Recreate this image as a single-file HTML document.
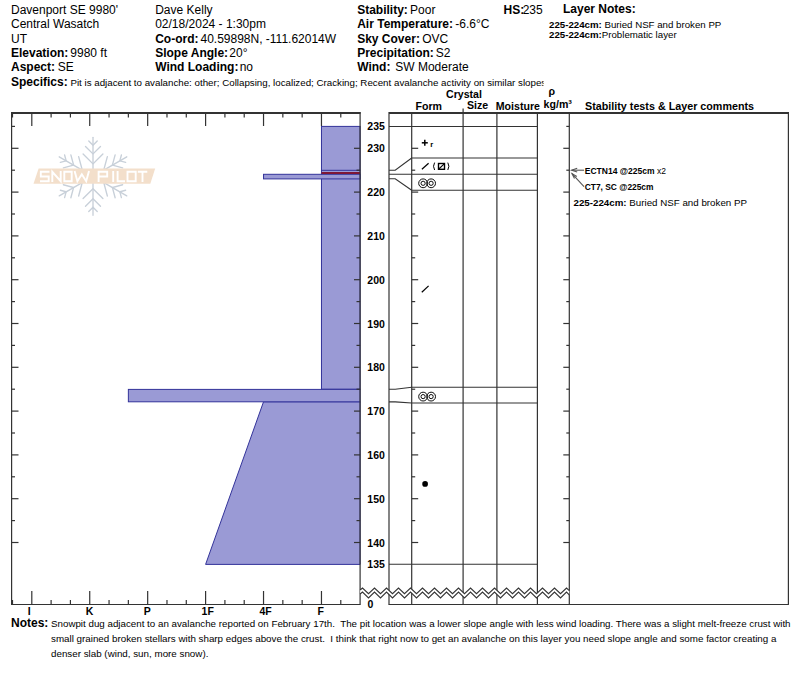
<!DOCTYPE html>
<html><head><meta charset="utf-8"><style>
html,body{margin:0;padding:0;background:#fff;}
body{width:800px;height:676px;overflow:hidden;}
svg{display:block;font-family:"Liberation Sans",sans-serif;}
text{white-space:pre;}
</style></head><body>
<svg width="800" height="676" viewBox="0 0 800 676" fill="#000">

<g stroke="#c8d0d9" stroke-width="1.35" fill="none" stroke-linecap="round"><line x1="93.00" y1="176.30" x2="93.00" y2="137.30"/><polyline points="102.90,154.00 93.00,163.90 83.10,154.00"/><polyline points="100.50,146.40 93.00,153.90 85.50,146.40"/><polyline points="97.24,141.06 93.00,145.30 88.76,141.06"/><line x1="93.00" y1="176.30" x2="126.77" y2="156.80"/><polyline points="117.26,173.72 103.74,170.10 107.36,156.58"/><polyline points="122.64,167.84 112.40,165.10 115.14,154.86"/><polyline points="125.64,162.35 119.85,160.80 121.40,155.00"/><line x1="93.00" y1="176.30" x2="126.77" y2="195.80"/><polyline points="107.36,196.02 103.74,182.50 117.26,178.88"/><polyline points="115.14,197.74 112.40,187.50 122.64,184.76"/><polyline points="121.40,197.60 119.85,191.80 125.64,190.25"/><line x1="93.00" y1="176.30" x2="93.00" y2="215.30"/><polyline points="83.10,198.60 93.00,188.70 102.90,198.60"/><polyline points="85.50,206.20 93.00,198.70 100.50,206.20"/><polyline points="88.76,211.54 93.00,207.30 97.24,211.54"/><line x1="93.00" y1="176.30" x2="59.23" y2="156.80"/><polyline points="78.64,156.58 82.26,170.10 68.74,173.72"/><polyline points="70.86,154.86 73.60,165.10 63.36,167.84"/><polyline points="64.60,155.00 66.15,160.80 60.36,162.35"/><line x1="93.00" y1="176.30" x2="59.23" y2="195.80"/><polyline points="68.74,178.88 82.26,182.50 78.64,196.02"/><polyline points="63.36,184.76 73.60,187.50 70.86,197.74"/><polyline points="60.36,190.25 66.15,191.80 64.60,197.60"/></g>
<polygon points="38.6,168.6 155.2,168.6 150.3,183.8 33.5,183.8" fill="#f3dfcb"/>
<path d="M49.5,171.8 H40.8 V176.5 H48.7 V181.2 H40 M52.3,182 V171.8 L60.7,181.2 V171 M64.3,171.8 H71.7 V181.2 H64.3 Z M74.6,171 L77.4,181.2 L81.8,174.2 L86.2,181.2 L89,171 M98.6,182 V171.8 H107.2 V176.5 H98.6 M113.2,171 V182 M117.6,171 V181.2 H125 M127.5,171.8 H135.7 V181.2 H127.5 Z M137.8,171.8 H147.3 M142.5,171.8 V182" fill="none" stroke="#fff" stroke-width="1.9"/>

<text x="11" y="13.8"  xml:space="preserve"><tspan font-weight="normal" font-size="12">Davenport SE 9980'</tspan></text>
<text x="11" y="28.1"  xml:space="preserve"><tspan font-weight="normal" font-size="12">Central Wasatch</tspan></text>
<text x="11" y="42.5"  xml:space="preserve"><tspan font-weight="normal" font-size="12">UT</tspan></text>
<text x="11" y="56.9"  xml:space="preserve"><tspan font-weight="bold" font-size="12">Elevation:</tspan><tspan font-weight="normal" font-size="12" dx="-1.4"> 9980 ft</tspan></text>
<text x="11" y="71.4"  xml:space="preserve"><tspan font-weight="bold" font-size="12">Aspect:</tspan><tspan font-weight="normal" font-size="12" dx="-0.5"> SE</tspan></text>
<clipPath id="cspec"><rect x="0" y="70" width="543.6" height="25"/></clipPath>
<text x="11" y="85.8" clip-path="url(#cspec)" xml:space="preserve"><tspan font-weight="bold" font-size="12">Specifics:</tspan><tspan font-weight="normal" font-size="9.75"> Pit is adjacent to avalanche: other; Collapsing, localized; Cracking; Recent avalanche activity on similar slopes</tspan></text>
<text x="155.2" y="13.8"  xml:space="preserve"><tspan font-weight="normal" font-size="12">Dave Kelly</tspan></text>
<text x="155.2" y="28.1"  xml:space="preserve"><tspan font-weight="normal" font-size="12">02/18/2024 - 1:30pm</tspan></text>
<text x="155.2" y="42.5"  xml:space="preserve"><tspan font-weight="bold" font-size="12">Co-ord:</tspan><tspan font-weight="normal" font-size="12" dx="-1.4"> 40.59898N, -111.62014W</tspan></text>
<text x="155.2" y="56.9"  xml:space="preserve"><tspan font-weight="bold" font-size="12">Slope Angle:</tspan><tspan font-weight="normal" font-size="12" dx="-2.1"> 20°</tspan></text>
<text x="155.2" y="71.4"  xml:space="preserve"><tspan font-weight="bold" font-size="12">Wind Loading:</tspan><tspan font-weight="normal" font-size="12" dx="-2.1"> no</tspan></text>
<text x="357.2" y="13.8"  xml:space="preserve"><tspan font-weight="bold" font-size="12">Stability:</tspan><tspan font-weight="normal" font-size="12" dx="-1.1"> Poor</tspan></text>
<text x="357.2" y="28.1"  xml:space="preserve"><tspan font-weight="bold" font-size="12">Air Temperature:</tspan><tspan font-weight="normal" font-size="12" dx="-1"> -6.6°C</tspan></text>
<text x="357.2" y="42.5"  xml:space="preserve"><tspan font-weight="bold" font-size="12">Sky Cover:</tspan><tspan font-weight="normal" font-size="12" dx="-1"> OVC</tspan></text>
<text x="357.2" y="56.9"  xml:space="preserve"><tspan font-weight="bold" font-size="12">Precipitation:</tspan><tspan font-weight="normal" font-size="12" dx="-1.4"> S2</tspan></text>
<text x="357.2" y="71.4"  xml:space="preserve"><tspan font-weight="bold" font-size="12">Wind:</tspan><tspan font-weight="normal" font-size="12" dx="-1.8">  SW Moderate</tspan></text>
<text x="503.5" y="13.8"  xml:space="preserve"><tspan font-weight="bold" font-size="12">HS:</tspan><tspan font-weight="normal" font-size="12" dx="-1.5">235</tspan></text>
<text x="563" y="13.3"  xml:space="preserve"><tspan font-weight="bold" font-size="12">Layer Notes:</tspan></text>
<text x="549" y="27.5"  xml:space="preserve"><tspan font-weight="bold" font-size="9.7">225-224cm:</tspan><tspan font-weight="normal" font-size="9.7"> Buried NSF and broken PP</tspan></text>
<text x="549" y="38.2"  xml:space="preserve"><tspan font-weight="bold" font-size="9.7">225-224cm:</tspan><tspan font-weight="normal" font-size="9.7">Problematic layer</tspan></text>
<text x="446" y="97.6"  xml:space="preserve"><tspan font-weight="bold" font-size="10.6">Crystal</tspan></text>
<text x="415.5" y="109.6"  xml:space="preserve"><tspan font-weight="bold" font-size="10.6">Form</tspan></text>
<text x="467" y="109.4"  xml:space="preserve"><tspan font-weight="bold" font-size="10.6">Size</tspan></text>
<text x="495.8" y="109.6"  xml:space="preserve"><tspan font-weight="bold" font-size="10.6">Moisture</tspan></text>
<text x="548.6" y="95.2"  xml:space="preserve"><tspan font-weight="bold" font-size="10.6">ρ</tspan></text>
<text x="543.6" y="107.9"  xml:space="preserve"><tspan font-weight="bold" font-size="10.6">kg/m³</tspan></text>
<text x="585" y="109.7"  xml:space="preserve"><tspan font-weight="bold" font-size="10.75">Stability tests &amp; Layer comments</tspan></text>
<rect x="321.47" y="126.40" width="38.63" height="262.80" fill="#9a9ad5" stroke="#33339a" stroke-width="1"/>
<rect x="263.53" y="174.3" width="96.57" height="4.6" fill="#9a9ad5" stroke="#33339a" stroke-width="1"/>
<line x1="321.47" x2="360.1" y1="170.3" y2="170.3" stroke="#33339a" stroke-width="1"/>
<line x1="321.47" x2="360.1" y1="173.1" y2="173.1" stroke="#7e1636" stroke-width="2"/>
<polygon points="263.53,401.8 360.1,401.8 360.1,564.40 205.60,564.40" fill="#9a9ad5" stroke="#33339a" stroke-width="1"/>
<rect x="128.36" y="389.4" width="231.74" height="12.4" fill="#9a9ad5" stroke="#33339a" stroke-width="1"/>
<line x1="11.5" y1="113" x2="360.5" y2="113" stroke="#333" stroke-width="2"/>
<line x1="11.6" y1="112" x2="11.6" y2="605" stroke="#333" stroke-width="1.2"/>
<line x1="11" y1="604.5" x2="360.6" y2="604.5" stroke="#333" stroke-width="1.2"/>
<line x1="360.1" y1="112" x2="360.1" y2="604.5" stroke="#333" stroke-width="1.2"/>
<line x1="12.49" x2="12.49" y1="113" y2="117.5" stroke="#333" stroke-width="1.2"/>
<line x1="12.49" x2="12.49" y1="600" y2="604" stroke="#333" stroke-width="1.2"/>
<line x1="31.80" x2="31.80" y1="113" y2="126" stroke="#333" stroke-width="1.2"/>
<line x1="31.80" x2="31.80" y1="591" y2="604" stroke="#333" stroke-width="1.2"/>
<line x1="51.11" x2="51.11" y1="113" y2="117.5" stroke="#333" stroke-width="1.2"/>
<line x1="51.11" x2="51.11" y1="600" y2="604" stroke="#333" stroke-width="1.2"/>
<line x1="70.42" x2="70.42" y1="113" y2="117.5" stroke="#333" stroke-width="1.2"/>
<line x1="70.42" x2="70.42" y1="600" y2="604" stroke="#333" stroke-width="1.2"/>
<line x1="89.73" x2="89.73" y1="113" y2="126" stroke="#333" stroke-width="1.2"/>
<line x1="89.73" x2="89.73" y1="591" y2="604" stroke="#333" stroke-width="1.2"/>
<line x1="109.05" x2="109.05" y1="113" y2="117.5" stroke="#333" stroke-width="1.2"/>
<line x1="109.05" x2="109.05" y1="600" y2="604" stroke="#333" stroke-width="1.2"/>
<line x1="128.36" x2="128.36" y1="113" y2="117.5" stroke="#333" stroke-width="1.2"/>
<line x1="128.36" x2="128.36" y1="600" y2="604" stroke="#333" stroke-width="1.2"/>
<line x1="147.67" x2="147.67" y1="113" y2="126" stroke="#333" stroke-width="1.2"/>
<line x1="147.67" x2="147.67" y1="591" y2="604" stroke="#333" stroke-width="1.2"/>
<line x1="166.98" x2="166.98" y1="113" y2="117.5" stroke="#333" stroke-width="1.2"/>
<line x1="166.98" x2="166.98" y1="600" y2="604" stroke="#333" stroke-width="1.2"/>
<line x1="186.29" x2="186.29" y1="113" y2="117.5" stroke="#333" stroke-width="1.2"/>
<line x1="186.29" x2="186.29" y1="600" y2="604" stroke="#333" stroke-width="1.2"/>
<line x1="205.60" x2="205.60" y1="113" y2="126" stroke="#333" stroke-width="1.2"/>
<line x1="205.60" x2="205.60" y1="591" y2="604" stroke="#333" stroke-width="1.2"/>
<line x1="224.91" x2="224.91" y1="113" y2="117.5" stroke="#333" stroke-width="1.2"/>
<line x1="224.91" x2="224.91" y1="600" y2="604" stroke="#333" stroke-width="1.2"/>
<line x1="244.22" x2="244.22" y1="113" y2="117.5" stroke="#333" stroke-width="1.2"/>
<line x1="244.22" x2="244.22" y1="600" y2="604" stroke="#333" stroke-width="1.2"/>
<line x1="263.53" x2="263.53" y1="113" y2="126" stroke="#333" stroke-width="1.2"/>
<line x1="263.53" x2="263.53" y1="591" y2="604" stroke="#333" stroke-width="1.2"/>
<line x1="282.84" x2="282.84" y1="113" y2="117.5" stroke="#333" stroke-width="1.2"/>
<line x1="282.84" x2="282.84" y1="600" y2="604" stroke="#333" stroke-width="1.2"/>
<line x1="302.16" x2="302.16" y1="113" y2="117.5" stroke="#333" stroke-width="1.2"/>
<line x1="302.16" x2="302.16" y1="600" y2="604" stroke="#333" stroke-width="1.2"/>
<line x1="321.47" x2="321.47" y1="113" y2="126" stroke="#333" stroke-width="1.2"/>
<line x1="321.47" x2="321.47" y1="591" y2="604" stroke="#333" stroke-width="1.2"/>
<line x1="340.78" x2="340.78" y1="113" y2="117.5" stroke="#333" stroke-width="1.2"/>
<line x1="340.78" x2="340.78" y1="600" y2="604" stroke="#333" stroke-width="1.2"/>
<text x="27.8" y="615.3"  xml:space="preserve"><tspan font-weight="bold" font-size="10.5">I</tspan></text>
<text x="85.7" y="615.3"  xml:space="preserve"><tspan font-weight="bold" font-size="10.5">K</tspan></text>
<text x="143.7" y="615.3"  xml:space="preserve"><tspan font-weight="bold" font-size="10.5">P</tspan></text>
<text x="201.6" y="615.3"  xml:space="preserve"><tspan font-weight="bold" font-size="10.5">1F</tspan></text>
<text x="259.5" y="615.3"  xml:space="preserve"><tspan font-weight="bold" font-size="10.5">4F</tspan></text>
<text x="317.5" y="615.3"  xml:space="preserve"><tspan font-weight="bold" font-size="10.5">F</tspan></text>
<line x1="11.5" x2="15" y1="126.40" y2="126.40" stroke="#333" stroke-width="1.2"/>
<line x1="566.3" x2="569.3" y1="126.40" y2="126.40" stroke="#333" stroke-width="1.2"/>
<line x1="11.5" x2="18.5" y1="148.30" y2="148.30" stroke="#333" stroke-width="1.2"/>
<line x1="354" x2="360.1" y1="148.30" y2="148.30" stroke="#333" stroke-width="1.2"/>
<line x1="411.7" x2="418.2" y1="148.30" y2="148.30" stroke="#333" stroke-width="1.2"/>
<line x1="563.3" x2="569.3" y1="148.30" y2="148.30" stroke="#333" stroke-width="1.2"/>
<line x1="11.5" x2="15" y1="170.20" y2="170.20" stroke="#333" stroke-width="1.2"/>
<line x1="356.5" x2="360.1" y1="170.20" y2="170.20" stroke="#333" stroke-width="1.2"/>
<line x1="411.7" x2="415.2" y1="170.20" y2="170.20" stroke="#333" stroke-width="1.2"/>
<line x1="566.3" x2="569.3" y1="170.20" y2="170.20" stroke="#333" stroke-width="1.2"/>
<line x1="11.5" x2="18.5" y1="192.10" y2="192.10" stroke="#333" stroke-width="1.2"/>
<line x1="354" x2="360.1" y1="192.10" y2="192.10" stroke="#333" stroke-width="1.2"/>
<line x1="411.7" x2="418.2" y1="192.10" y2="192.10" stroke="#333" stroke-width="1.2"/>
<line x1="563.3" x2="569.3" y1="192.10" y2="192.10" stroke="#333" stroke-width="1.2"/>
<line x1="11.5" x2="15" y1="214.00" y2="214.00" stroke="#333" stroke-width="1.2"/>
<line x1="356.5" x2="360.1" y1="214.00" y2="214.00" stroke="#333" stroke-width="1.2"/>
<line x1="411.7" x2="415.2" y1="214.00" y2="214.00" stroke="#333" stroke-width="1.2"/>
<line x1="566.3" x2="569.3" y1="214.00" y2="214.00" stroke="#333" stroke-width="1.2"/>
<line x1="11.5" x2="18.5" y1="235.90" y2="235.90" stroke="#333" stroke-width="1.2"/>
<line x1="354" x2="360.1" y1="235.90" y2="235.90" stroke="#333" stroke-width="1.2"/>
<line x1="411.7" x2="418.2" y1="235.90" y2="235.90" stroke="#333" stroke-width="1.2"/>
<line x1="563.3" x2="569.3" y1="235.90" y2="235.90" stroke="#333" stroke-width="1.2"/>
<line x1="11.5" x2="15" y1="257.80" y2="257.80" stroke="#333" stroke-width="1.2"/>
<line x1="356.5" x2="360.1" y1="257.80" y2="257.80" stroke="#333" stroke-width="1.2"/>
<line x1="411.7" x2="415.2" y1="257.80" y2="257.80" stroke="#333" stroke-width="1.2"/>
<line x1="566.3" x2="569.3" y1="257.80" y2="257.80" stroke="#333" stroke-width="1.2"/>
<line x1="11.5" x2="18.5" y1="279.70" y2="279.70" stroke="#333" stroke-width="1.2"/>
<line x1="354" x2="360.1" y1="279.70" y2="279.70" stroke="#333" stroke-width="1.2"/>
<line x1="411.7" x2="418.2" y1="279.70" y2="279.70" stroke="#333" stroke-width="1.2"/>
<line x1="563.3" x2="569.3" y1="279.70" y2="279.70" stroke="#333" stroke-width="1.2"/>
<line x1="11.5" x2="15" y1="301.60" y2="301.60" stroke="#333" stroke-width="1.2"/>
<line x1="356.5" x2="360.1" y1="301.60" y2="301.60" stroke="#333" stroke-width="1.2"/>
<line x1="411.7" x2="415.2" y1="301.60" y2="301.60" stroke="#333" stroke-width="1.2"/>
<line x1="566.3" x2="569.3" y1="301.60" y2="301.60" stroke="#333" stroke-width="1.2"/>
<line x1="11.5" x2="18.5" y1="323.50" y2="323.50" stroke="#333" stroke-width="1.2"/>
<line x1="354" x2="360.1" y1="323.50" y2="323.50" stroke="#333" stroke-width="1.2"/>
<line x1="411.7" x2="418.2" y1="323.50" y2="323.50" stroke="#333" stroke-width="1.2"/>
<line x1="563.3" x2="569.3" y1="323.50" y2="323.50" stroke="#333" stroke-width="1.2"/>
<line x1="11.5" x2="15" y1="345.40" y2="345.40" stroke="#333" stroke-width="1.2"/>
<line x1="356.5" x2="360.1" y1="345.40" y2="345.40" stroke="#333" stroke-width="1.2"/>
<line x1="411.7" x2="415.2" y1="345.40" y2="345.40" stroke="#333" stroke-width="1.2"/>
<line x1="566.3" x2="569.3" y1="345.40" y2="345.40" stroke="#333" stroke-width="1.2"/>
<line x1="11.5" x2="18.5" y1="367.30" y2="367.30" stroke="#333" stroke-width="1.2"/>
<line x1="354" x2="360.1" y1="367.30" y2="367.30" stroke="#333" stroke-width="1.2"/>
<line x1="411.7" x2="418.2" y1="367.30" y2="367.30" stroke="#333" stroke-width="1.2"/>
<line x1="563.3" x2="569.3" y1="367.30" y2="367.30" stroke="#333" stroke-width="1.2"/>
<line x1="11.5" x2="15" y1="389.20" y2="389.20" stroke="#333" stroke-width="1.2"/>
<line x1="356.5" x2="360.1" y1="389.20" y2="389.20" stroke="#333" stroke-width="1.2"/>
<line x1="411.7" x2="415.2" y1="389.20" y2="389.20" stroke="#333" stroke-width="1.2"/>
<line x1="566.3" x2="569.3" y1="389.20" y2="389.20" stroke="#333" stroke-width="1.2"/>
<line x1="11.5" x2="18.5" y1="411.10" y2="411.10" stroke="#333" stroke-width="1.2"/>
<line x1="354" x2="360.1" y1="411.10" y2="411.10" stroke="#333" stroke-width="1.2"/>
<line x1="411.7" x2="418.2" y1="411.10" y2="411.10" stroke="#333" stroke-width="1.2"/>
<line x1="563.3" x2="569.3" y1="411.10" y2="411.10" stroke="#333" stroke-width="1.2"/>
<line x1="11.5" x2="15" y1="433.00" y2="433.00" stroke="#333" stroke-width="1.2"/>
<line x1="356.5" x2="360.1" y1="433.00" y2="433.00" stroke="#333" stroke-width="1.2"/>
<line x1="411.7" x2="415.2" y1="433.00" y2="433.00" stroke="#333" stroke-width="1.2"/>
<line x1="566.3" x2="569.3" y1="433.00" y2="433.00" stroke="#333" stroke-width="1.2"/>
<line x1="11.5" x2="18.5" y1="454.90" y2="454.90" stroke="#333" stroke-width="1.2"/>
<line x1="354" x2="360.1" y1="454.90" y2="454.90" stroke="#333" stroke-width="1.2"/>
<line x1="411.7" x2="418.2" y1="454.90" y2="454.90" stroke="#333" stroke-width="1.2"/>
<line x1="563.3" x2="569.3" y1="454.90" y2="454.90" stroke="#333" stroke-width="1.2"/>
<line x1="11.5" x2="15" y1="476.80" y2="476.80" stroke="#333" stroke-width="1.2"/>
<line x1="356.5" x2="360.1" y1="476.80" y2="476.80" stroke="#333" stroke-width="1.2"/>
<line x1="411.7" x2="415.2" y1="476.80" y2="476.80" stroke="#333" stroke-width="1.2"/>
<line x1="566.3" x2="569.3" y1="476.80" y2="476.80" stroke="#333" stroke-width="1.2"/>
<line x1="11.5" x2="18.5" y1="498.70" y2="498.70" stroke="#333" stroke-width="1.2"/>
<line x1="354" x2="360.1" y1="498.70" y2="498.70" stroke="#333" stroke-width="1.2"/>
<line x1="411.7" x2="418.2" y1="498.70" y2="498.70" stroke="#333" stroke-width="1.2"/>
<line x1="563.3" x2="569.3" y1="498.70" y2="498.70" stroke="#333" stroke-width="1.2"/>
<line x1="11.5" x2="15" y1="520.60" y2="520.60" stroke="#333" stroke-width="1.2"/>
<line x1="356.5" x2="360.1" y1="520.60" y2="520.60" stroke="#333" stroke-width="1.2"/>
<line x1="411.7" x2="415.2" y1="520.60" y2="520.60" stroke="#333" stroke-width="1.2"/>
<line x1="566.3" x2="569.3" y1="520.60" y2="520.60" stroke="#333" stroke-width="1.2"/>
<line x1="11.5" x2="18.5" y1="542.50" y2="542.50" stroke="#333" stroke-width="1.2"/>
<line x1="354" x2="360.1" y1="542.50" y2="542.50" stroke="#333" stroke-width="1.2"/>
<line x1="411.7" x2="418.2" y1="542.50" y2="542.50" stroke="#333" stroke-width="1.2"/>
<line x1="563.3" x2="569.3" y1="542.50" y2="542.50" stroke="#333" stroke-width="1.2"/>
<text x="367.3" y="130.4"  xml:space="preserve"><tspan font-weight="bold" font-size="10.5">235</tspan></text>
<text x="367.3" y="152.3"  xml:space="preserve"><tspan font-weight="bold" font-size="10.5">230</tspan></text>
<text x="367.3" y="196.1"  xml:space="preserve"><tspan font-weight="bold" font-size="10.5">220</tspan></text>
<text x="367.3" y="239.9"  xml:space="preserve"><tspan font-weight="bold" font-size="10.5">210</tspan></text>
<text x="367.3" y="283.7"  xml:space="preserve"><tspan font-weight="bold" font-size="10.5">200</tspan></text>
<text x="367.3" y="327.5"  xml:space="preserve"><tspan font-weight="bold" font-size="10.5">190</tspan></text>
<text x="367.3" y="371.3"  xml:space="preserve"><tspan font-weight="bold" font-size="10.5">180</tspan></text>
<text x="367.3" y="415.1"  xml:space="preserve"><tspan font-weight="bold" font-size="10.5">170</tspan></text>
<text x="367.3" y="458.9"  xml:space="preserve"><tspan font-weight="bold" font-size="10.5">160</tspan></text>
<text x="367.3" y="502.7"  xml:space="preserve"><tspan font-weight="bold" font-size="10.5">150</tspan></text>
<text x="367.3" y="546.5"  xml:space="preserve"><tspan font-weight="bold" font-size="10.5">140</tspan></text>
<text x="367.3" y="568.4"  xml:space="preserve"><tspan font-weight="bold" font-size="10.5">135</tspan></text>
<text x="367.5" y="608"  xml:space="preserve"><tspan font-weight="bold" font-size="10.5">0</tspan></text>
<line x1="389" y1="113" x2="788.5" y2="113" stroke="#333" stroke-width="2"/>
<line x1="389.0" y1="112" x2="389.0" y2="604.5" stroke="#333" stroke-width="1.2"/>
<line x1="411.7" y1="112" x2="411.7" y2="604.5" stroke="#333" stroke-width="1.2"/>
<line x1="463.1" y1="112" x2="463.1" y2="604.5" stroke="#333" stroke-width="1.2"/>
<line x1="496.9" y1="112" x2="496.9" y2="604.5" stroke="#333" stroke-width="1.2"/>
<line x1="537.4" y1="112" x2="537.4" y2="604.5" stroke="#333" stroke-width="1.2"/>
<line x1="569.3" y1="112" x2="569.3" y2="604.5" stroke="#333" stroke-width="1.2"/>
<line x1="788.4" y1="112" x2="788.4" y2="604.5" stroke="#333" stroke-width="1.2"/>
<line x1="463.1" y1="108.5" x2="463.1" y2="113" stroke="#333" stroke-width="1.2"/>
<line x1="388.5" y1="604.5" x2="788.9" y2="604.5" stroke="#333" stroke-width="1.2"/>
<line x1="389.0" y1="126.5" x2="537.4" y2="126.5" stroke="#333" stroke-width="1.1"/>
<line x1="389.0" y1="174.2" x2="537.4" y2="174.2" stroke="#333" stroke-width="1.1"/>
<line x1="389.0" y1="564.3" x2="537.4" y2="564.3" stroke="#333" stroke-width="1.1"/>
<line x1="411.7" y1="158.0" x2="537.4" y2="158.0" stroke="#333" stroke-width="1.1"/>
<line x1="411.7" y1="190.3" x2="537.4" y2="190.3" stroke="#333" stroke-width="1.1"/>
<line x1="411.7" y1="387.3" x2="537.4" y2="387.3" stroke="#333" stroke-width="1.1"/>
<line x1="411.7" y1="403" x2="537.4" y2="403" stroke="#333" stroke-width="1.1"/>
<polyline points="389.0,170.2 395.2,170.2 411.7,158.0" fill="none" stroke="#333" stroke-width="1.1"/>
<polyline points="389.0,178.7 395.2,178.7 411.7,190.3" fill="none" stroke="#333" stroke-width="1.1"/>
<polyline points="389.0,389.2 395.2,389.2 411.7,387.3" fill="none" stroke="#333" stroke-width="1.1"/>
<polyline points="389.0,401.9 395.2,401.9 411.7,403" fill="none" stroke="#333" stroke-width="1.1"/>
<g stroke="#000" stroke-width="1.5" fill="none"><line x1="421.8" x2="427.8" y1="142.8" y2="142.8"/><line x1="424.8" x2="424.8" y1="139.8" y2="145.8"/></g>
<text x="430.2" y="146.9"  xml:space="preserve"><tspan font-weight="bold" font-size="7.6">r</tspan></text>
<line x1="421.9" y1="169.2" x2="428.6" y2="163.2" stroke="#000" stroke-width="1.2"/>
<path d="M434.6,162.6 Q432.4,166.3 434.6,170" fill="none" stroke="#000" stroke-width="1"/>
<rect x="438.5" y="163.5" width="6" height="5.8" fill="none" stroke="#000" stroke-width="1.4"/>
<line x1="438.8" y1="169" x2="444.2" y2="163.8" stroke="#000" stroke-width="1.1"/>
<path d="M447.8,162.6 Q450,166.3 447.8,170" fill="none" stroke="#000" stroke-width="1"/>
<g fill="none" stroke="#000" stroke-width="0.95"><circle cx="423.1" cy="183.3" r="4.4"/><circle cx="431.1" cy="183.3" r="4.4"/><circle cx="423.1" cy="183.3" r="2.1"/><circle cx="431.1" cy="183.3" r="2.1"/></g>
<g fill="none" stroke="#000" stroke-width="0.95"><circle cx="423.1" cy="396.6" r="4.4"/><circle cx="431.1" cy="396.6" r="4.4"/><circle cx="423.1" cy="396.6" r="2.1"/><circle cx="431.1" cy="396.6" r="2.1"/></g>
<line x1="421.8" y1="292.3" x2="428.6" y2="285.9" stroke="#000" stroke-width="1.2"/>
<circle cx="425.1" cy="483.9" r="2.85" fill="#000"/>
<g stroke="#555" stroke-width="1.1" fill="none" stroke-linejoin="miter"><line x1="571.6" y1="170.2" x2="584" y2="170.2"/><polyline points="577.2,168.3 571.6,170.2 577.2,172.1"/><line x1="572" y1="173.6" x2="584" y2="186.6"/><polyline points="576.8,176.5 572,173.6 574.5,178.6"/></g>
<text x="584.8" y="173.8"  xml:space="preserve"><tspan font-weight="bold" font-size="8.5">ECTN14 @225cm</tspan><tspan font-weight="normal" font-size="8.5"> x2</tspan></text>
<text x="584.8" y="189.8"  xml:space="preserve"><tspan font-weight="bold" font-size="8.4">CT7, SC @225cm</tspan></text>
<text x="573.5" y="206.2"  xml:space="preserve"><tspan font-weight="bold" font-size="9.75">225-224cm:</tspan><tspan font-weight="normal" font-size="9.75"> Buried NSF and broken PP</tspan></text>
<polygon points="360.10,590.00 362.50,588.00 368.50,593.75 374.50,588.00 380.50,593.75 386.50,588.00 392.50,593.75 398.50,588.00 404.50,593.75 410.50,588.00 416.50,593.75 422.50,588.00 428.50,593.75 434.50,588.00 440.50,593.75 446.50,588.00 452.50,593.75 458.50,588.00 464.50,593.75 470.50,588.00 476.50,593.75 482.50,588.00 488.50,593.75 494.50,588.00 500.50,593.75 506.50,588.00 512.50,593.75 518.50,588.00 524.50,593.75 530.50,588.00 536.50,593.75 542.50,588.00 548.50,593.75 554.50,588.00 560.50,593.75 566.50,588.00 569.30,590.68 569.30,594.80 566.50,592.00 560.50,598.00 554.50,592.00 548.50,598.00 542.50,592.00 536.50,598.00 530.50,592.00 524.50,598.00 518.50,592.00 512.50,598.00 506.50,592.00 500.50,598.00 494.50,592.00 488.50,598.00 482.50,592.00 476.50,598.00 470.50,592.00 464.50,598.00 458.50,592.00 452.50,598.00 446.50,592.00 440.50,598.00 434.50,592.00 428.50,598.00 422.50,592.00 416.50,598.00 410.50,592.00 404.50,598.00 398.50,592.00 392.50,598.00 386.50,592.00 380.50,598.00 374.50,592.00 368.50,598.00 362.50,592.00 360.10,594.00" fill="#fff" stroke="none"/>
<polyline points="360.10,590.00 362.50,588.00 368.50,593.75 374.50,588.00 380.50,593.75 386.50,588.00 392.50,593.75 398.50,588.00 404.50,593.75 410.50,588.00 416.50,593.75 422.50,588.00 428.50,593.75 434.50,588.00 440.50,593.75 446.50,588.00 452.50,593.75 458.50,588.00 464.50,593.75 470.50,588.00 476.50,593.75 482.50,588.00 488.50,593.75 494.50,588.00 500.50,593.75 506.50,588.00 512.50,593.75 518.50,588.00 524.50,593.75 530.50,588.00 536.50,593.75 542.50,588.00 548.50,593.75 554.50,588.00 560.50,593.75 566.50,588.00 569.30,590.68" fill="none" stroke="#333" stroke-width="1.1"/>
<polyline points="360.10,594.00 362.50,592.00 368.50,598.00 374.50,592.00 380.50,598.00 386.50,592.00 392.50,598.00 398.50,592.00 404.50,598.00 410.50,592.00 416.50,598.00 422.50,592.00 428.50,598.00 434.50,592.00 440.50,598.00 446.50,592.00 452.50,598.00 458.50,592.00 464.50,598.00 470.50,592.00 476.50,598.00 482.50,592.00 488.50,598.00 494.50,592.00 500.50,598.00 506.50,592.00 512.50,598.00 518.50,592.00 524.50,598.00 530.50,592.00 536.50,598.00 542.50,592.00 548.50,598.00 554.50,592.00 560.50,598.00 566.50,592.00 569.30,594.80" fill="none" stroke="#333" stroke-width="1.1"/>
<text x="11" y="626.7"  xml:space="preserve"><tspan font-weight="bold" font-size="12">Notes:</tspan></text>
<text x="51" y="626.7"  xml:space="preserve"><tspan font-weight="normal" font-size="9.78">Snowpit dug adjacent to an avalanche reported on February 17th.  The pit location was a lower slope angle with less wind loading. There was a slight melt-freeze crust with</tspan></text>
<text x="51" y="641.9"  xml:space="preserve"><tspan font-weight="normal" font-size="9.8">small grained broken stellars with sharp edges above the crust.  I think that right now to get an avalanche on this layer you need slope angle and some factor creating a</tspan></text>
<text x="51" y="657.1"  xml:space="preserve"><tspan font-weight="normal" font-size="9.8">denser slab (wind, sun, more snow).</tspan></text>
</svg>
</body></html>
